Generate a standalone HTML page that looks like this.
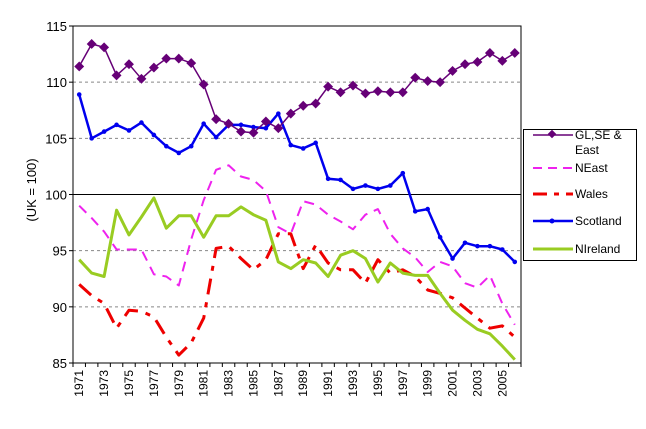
<!DOCTYPE html>
<html><head><meta charset="utf-8"><style>
body{margin:0;background:#fff;}
svg{display:block;font-family:"Liberation Sans",Arial,sans-serif;}
</style></head><body>
<svg id="chart" width="646" height="429" viewBox="0 0 646 429" xmlns="http://www.w3.org/2000/svg">
<defs><clipPath id="ytclip"><rect x="0" y="148" width="70" height="200"/></clipPath></defs>
<g id="grid"></g>
<g id="axes"></g>
<g id="series"></g>
<g clip-path="url(#ytclip)"><text transform="translate(36,190) rotate(-90)" text-anchor="middle" font-size="13" fill="#000">(UK = 100)</text></g>
<g>
<rect x="523.5" y="129.5" width="113" height="131" fill="#fff" stroke="#000" stroke-width="1"/>
<g><line x1="533" y1="135" x2="573" y2="135" stroke="#660077" stroke-width="1.5"/><rect x="549" y="131" width="6" height="6" transform="rotate(45 552 134)" fill="#660077"/><text x="575" y="139" font-size="12">GL,SE &amp;</text><text x="575" y="154" font-size="12">East</text></g>
<g><line x1="533" y1="168" x2="573" y2="168" stroke="#ee22ee" stroke-width="2" stroke-dasharray="9,6"/><text x="575" y="172" font-size="12">NEast</text></g>
<g><line x1="533" y1="194" x2="573" y2="194" stroke="#ee0000" stroke-width="3" stroke-dasharray="14,7,5,7"/><text x="575" y="198" font-size="12">Wales</text></g>
<g><line x1="533" y1="221" x2="573" y2="221" stroke="#0000ee" stroke-width="2.5"/><circle cx="552" cy="221" r="2.5" fill="#0000ee"/><text x="575" y="225" font-size="12">Scotland</text></g>
<g><line x1="533" y1="249" x2="573" y2="249" stroke="#99cc22" stroke-width="3"/><text x="575" y="253" font-size="12">NIreland</text></g>
</g>
</svg>
<script>
const years = [];
for (let y = 1971; y <= 2006; y++) years.push(y);
const yTicks = [85, 90, 95, 100, 105, 110, 115];
const glSeEast = [111.4,113.4,113.1,110.6,111.6,110.3,111.3,112.1,112.1,111.7,109.8,106.7,106.3,105.6,105.5,106.5,105.9,107.2,107.9,108.1,109.6,109.1,109.7,109.0,109.2,109.1,109.1,110.4,110.1,110.0,111.0,111.6,111.8,112.6,111.9,112.6];
const nEast = [99.0,97.9,96.7,95.1,95.1,95.1,92.9,92.7,91.9,96.0,99.5,102.2,102.6,101.6,101.3,100.3,97.1,96.5,99.4,99.1,98.2,97.6,96.9,98.2,98.7,96.5,95.2,94.4,93.1,94.0,93.6,92.1,91.7,92.8,90.3,88.4];
const wales = [92.0,91.0,90.3,88.1,89.7,89.6,89.1,87.3,85.7,86.8,89.0,95.2,95.4,94.3,93.3,94.2,96.5,96.5,93.4,95.5,93.9,93.3,93.3,92.1,94.2,93.0,93.3,92.7,91.5,91.2,90.8,89.9,89.0,88.1,88.3,87.3];
const scotland = [108.9,105.0,105.6,106.2,105.7,106.4,105.3,104.3,103.7,104.3,106.3,105.1,106.2,106.2,106.0,105.9,107.2,104.4,104.1,104.6,101.4,101.3,100.5,100.8,100.5,100.8,101.9,98.5,98.7,96.2,94.3,95.7,95.4,95.4,95.1,94.0];
const nIreland = [94.2,93.0,92.7,98.6,96.4,98.0,99.7,97.0,98.1,98.1,96.2,98.1,98.1,98.9,98.2,97.7,94.0,93.4,94.2,93.9,92.7,94.6,95.0,94.3,92.2,93.9,93.0,92.8,92.8,91.2,89.7,88.8,88.0,87.6,86.5,85.3];

const L = 73, R = 521, T = 26, B = 363, yMin = 85, yMax = 115;
const step = (R - L) / years.length;
function xPos(i) { return L + step * (i + 0.5); }
function yPos(v) { return B - (v - yMin) / (yMax - yMin) * (B - T); }
const NS = 'http://www.w3.org/2000/svg';
function mk(tag, attrs, parent) {
  const e = document.createElementNS(NS, tag);
  for (const k in attrs) e.setAttribute(k, attrs[k]);
  parent.appendChild(e);
  return e;
}
const grid = document.getElementById('grid');
const axes = document.getElementById('axes');
const series = document.getElementById('series');

yTicks.forEach(v => {
  const y = yPos(v);
  if (v !== yMin && v !== yMax) {
    const g = mk('line', {x1: L, x2: R, y1: y, y2: y, stroke: v === 100 ? '#000' : '#888', 'stroke-width': 1, 'stroke-dasharray': v === 100 ? 'none' : '3,3'}, grid);
    
    
  }
  const tk = mk('line', {x1: L - 4, x2: L, y1: y, y2: y, stroke: '#000'}, axes);
  
  
  const t = mk('text', {x: L - 6, y: y + 5, 'text-anchor': 'end', 'font-size': 13}, axes);
  t.textContent = v;
  
  
});
const frame = mk('rect', {x: L, y: T, width: R - L, height: B - T, fill: 'none', stroke: '#000', 'stroke-width': 1}, axes);


for (let i = 0; i <= years.length; i++) {
  const x = L + step * i;
  const tk = mk('line', {x1: x, x2: x, y1: B, y2: B + 4, stroke: '#000'}, axes);
  
  
}
years.forEach((yr, i) => {
  if (i % 2 !== 0) return;
  const x = xPos(i);
  const t = mk('text', {x: 0, y: 0, 'text-anchor': 'end', 'font-size': 12, transform: 'translate(' + (x + 4) + ',' + (B + 7) + ') rotate(-90)'}, axes);
  t.textContent = yr;
  
  
});

function drawSeries(name, data, color, width, dash, marker) {
  const g = mk('g', {}, series);
  
  
  const pts = data.map((v, i) => xPos(i).toFixed(1) + ',' + yPos(v).toFixed(1)).join(' ');
  const pl = mk('polyline', {points: pts, fill: 'none', stroke: color, 'stroke-width': width, 'stroke-dasharray': dash, 'stroke-linejoin': 'round'}, g);
  
  
  data.forEach((v, i) => {
    if (marker === 'diamond') {
      const m = mk('rect', {x: xPos(i) - 3.5, y: yPos(v) - 3.5, width: 7, height: 7, fill: color, transform: 'rotate(45 ' + xPos(i) + ' ' + yPos(v) + ')'}, g);
      
      
    } else if (marker === 'dot') {
      const m = mk('circle', {cx: xPos(i), cy: yPos(v), r: 2.3, fill: color}, g);
      
      
    }
  });
}
drawSeries('neast', nEast, '#ee22ee', 2, '10,7', null);
drawSeries('wales', wales, '#ee0000', 3, '16,8,5,8', null);
drawSeries('nireland', nIreland, '#99cc22', 3, 'none', null);
drawSeries('scotland', scotland, '#0000ee', 2.5, 'none', 'dot');
drawSeries('gl-se-east', glSeEast, '#660077', 1.5, 'none', 'diamond');
</script>
</body></html>
